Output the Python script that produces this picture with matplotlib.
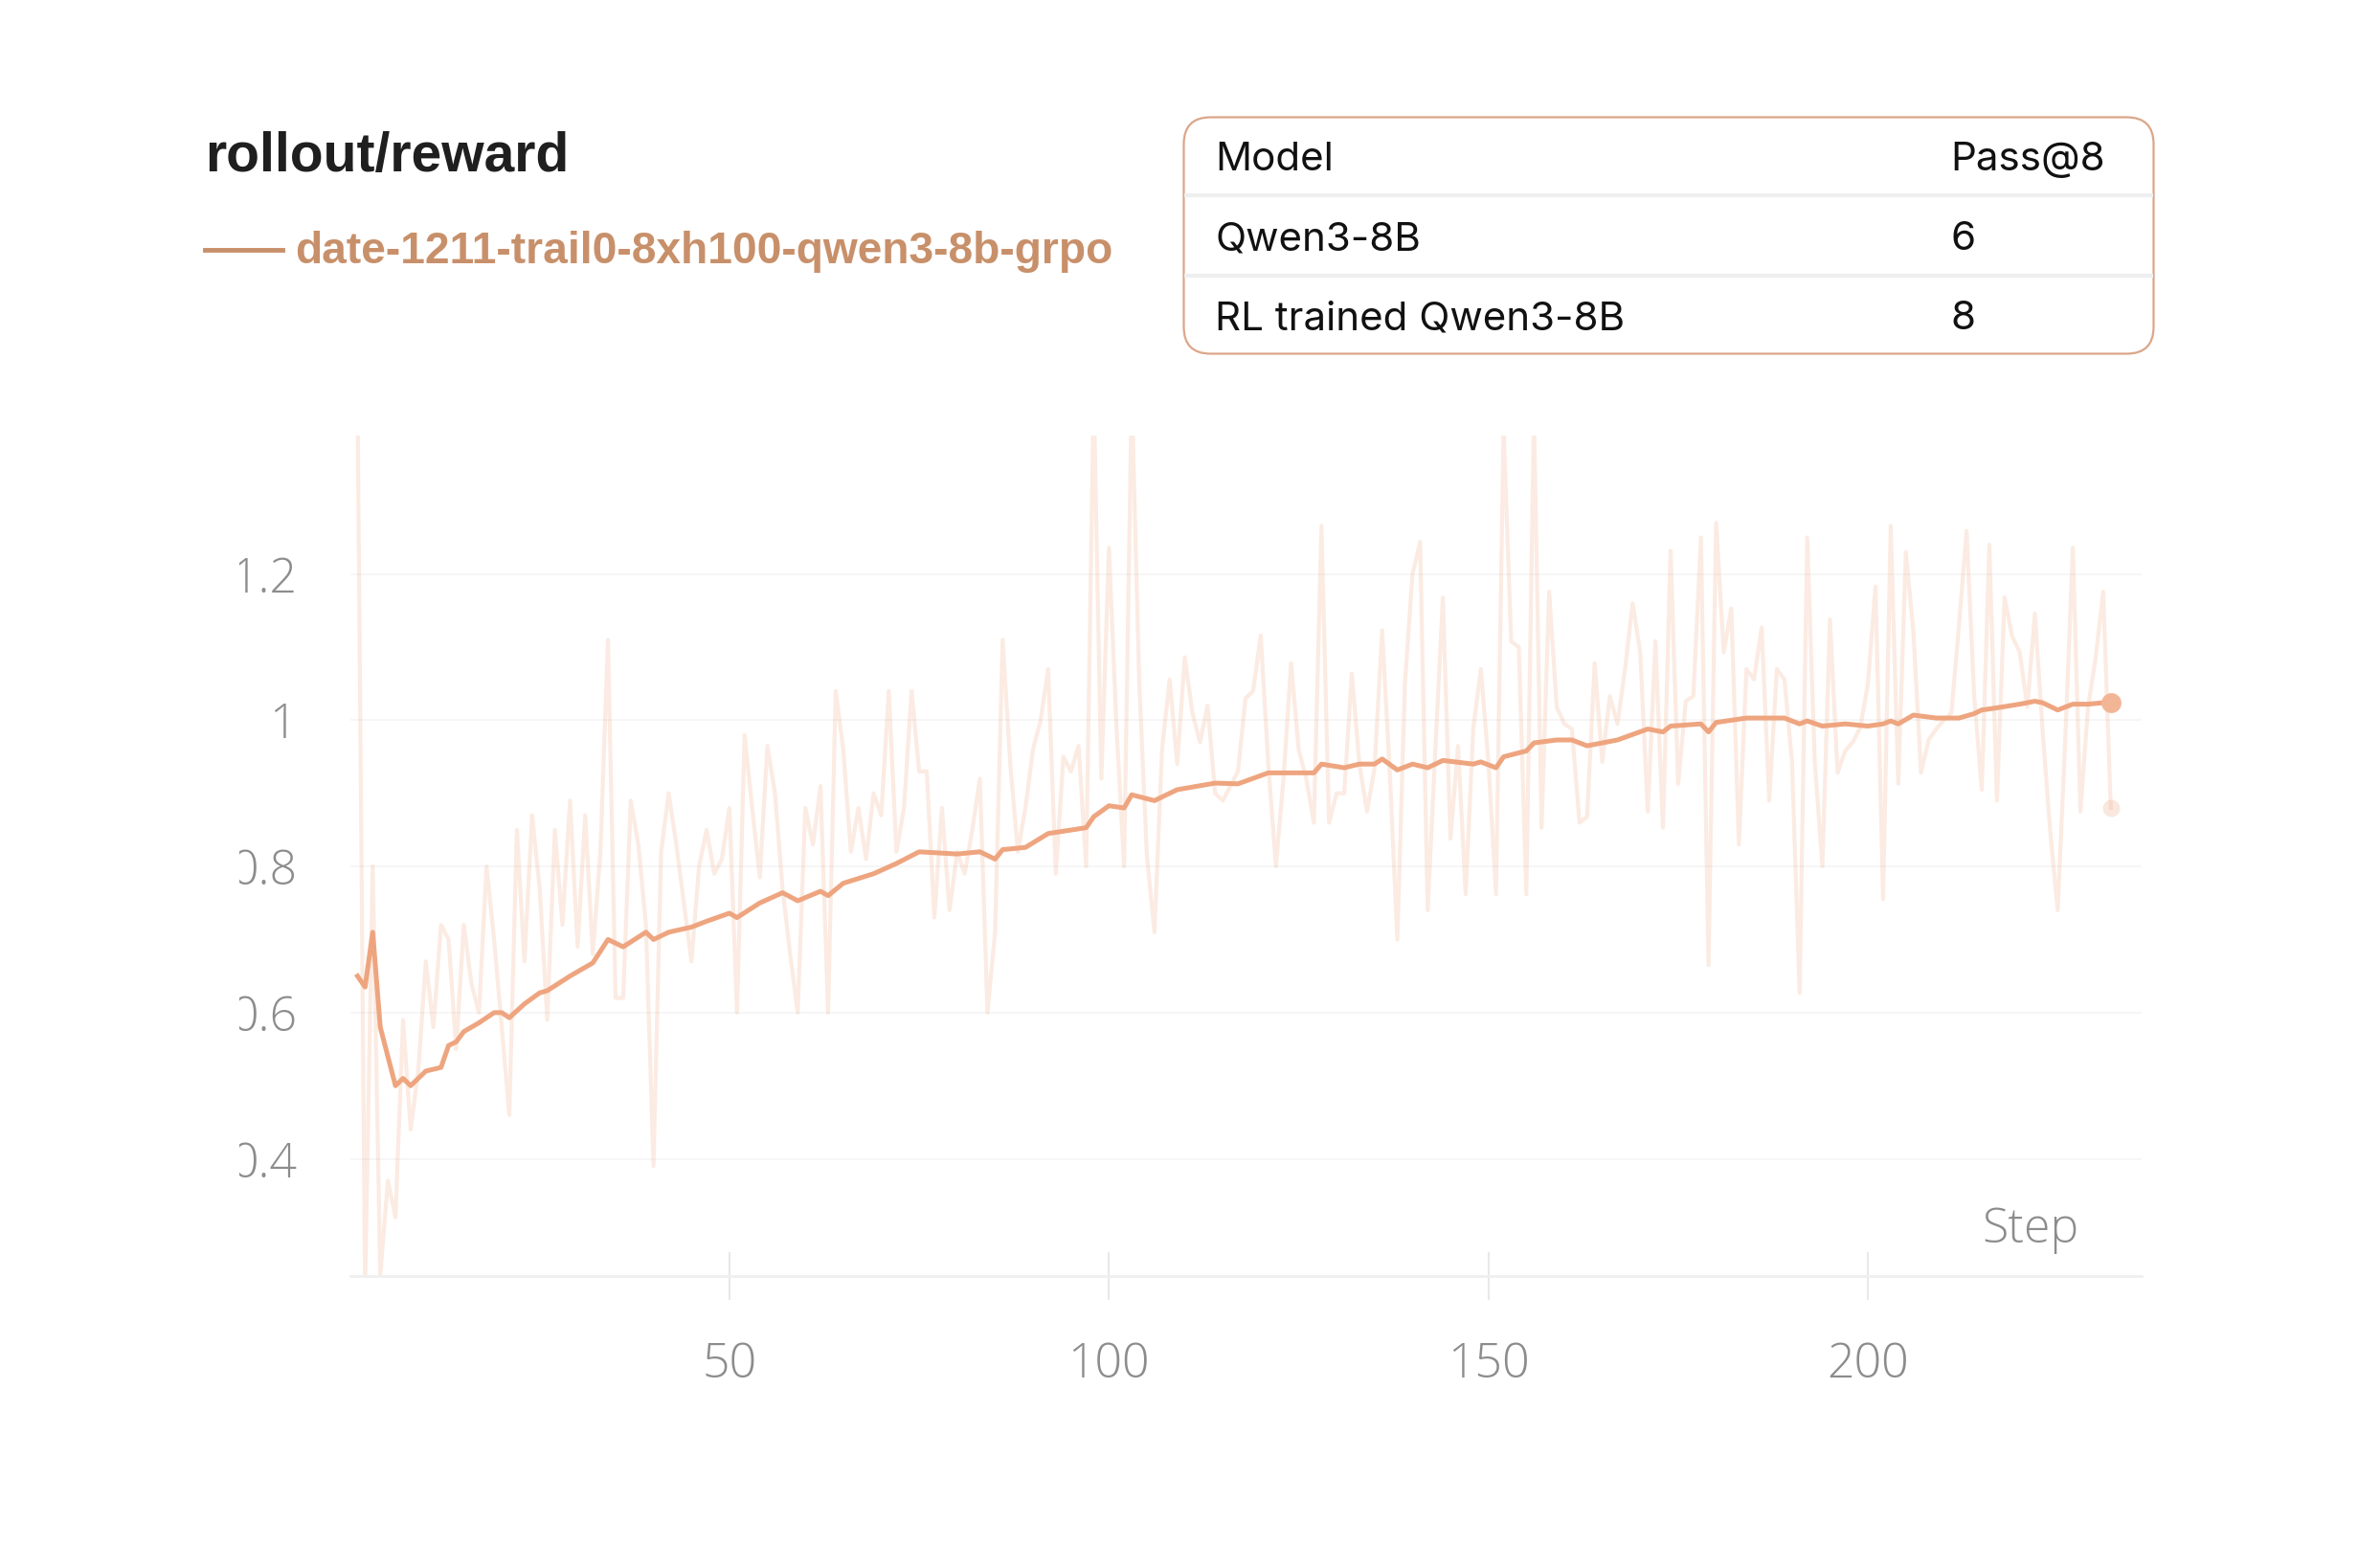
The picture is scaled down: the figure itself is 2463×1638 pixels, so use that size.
import matplotlib
matplotlib.use("Agg")
import matplotlib.pyplot as plt
from matplotlib.patches import FancyBboxPatch, Rectangle
from matplotlib.lines import Line2D

# raw rollout/reward per step (steps 1..232)
raw_reward = [
    1.45, 0.22, 0.80, 0.24, 0.37, 0.32, 0.59, 0.44, 0.52, 0.67,
    0.58, 0.72, 0.70, 0.55, 0.72, 0.64, 0.60, 0.80, 0.70, 0.58,
    0.46, 0.85, 0.67, 0.87, 0.77, 0.59, 0.85, 0.72, 0.89, 0.69,
    0.87, 0.68, 0.82, 1.11, 0.62, 0.62, 0.89, 0.83, 0.72, 0.39,
    0.82, 0.90, 0.83, 0.75, 0.67, 0.80, 0.85,
    0.79, 0.81, 0.88, 0.60, 0.98, 0.88, 0.785, 0.965, 0.90, 0.77,
    0.68, 0.60, 0.88, 0.83, 0.91, 0.60, 1.04, 0.96, 0.82, 0.88,
    0.81, 0.90, 0.87, 1.04, 0.82, 0.88, 1.04, 0.93, 0.93, 0.73,
    0.88, 0.74, 0.82, 0.79, 0.85, 0.92, 0.60, 0.71, 1.11, 0.94,
    0.82, 0.88, 0.96, 1.00, 1.07, 0.79,
    0.95, 0.93, 0.965, 0.80, 1.45, 0.92, 1.236, 0.99, 0.80, 1.45,
    1.05, 0.815, 0.71, 0.96, 1.056, 0.94, 1.086, 1.01, 0.97, 1.02,
    0.90, 0.89, 0.91, 0.93, 1.03, 1.04, 1.116, 0.94, 0.80, 0.92,
    1.078, 0.96, 0.92, 0.86, 1.266, 0.86, 0.90, 0.90, 1.064, 0.94,
    0.875, 0.935, 1.123, 0.93, 0.70, 1.05, 1.20,
    1.244, 0.74, 0.958, 1.168, 0.838, 0.965, 0.762, 0.988, 1.07, 0.943,
    0.762, 1.40, 1.108, 1.10, 0.762, 1.42, 0.853, 1.176, 1.018, 0.995,
    0.988, 0.86, 0.868, 1.078, 0.943, 1.033, 0.995, 1.07, 1.16, 1.093,
    0.875, 1.108, 0.853, 1.232, 0.913, 1.026, 1.033, 1.25, 0.665, 1.27,
    1.093, 1.153, 0.83, 1.07, 1.056, 1.127, 0.89,
    1.07, 1.056, 0.943, 0.627, 1.25, 0.943, 0.80, 1.138, 0.928, 0.958,
    0.97, 0.99, 1.05, 1.183, 0.755, 1.266, 0.913, 1.23, 1.12, 0.928,
    0.973, 0.988, 1.00, 1.01, 1.13, 1.259, 1.033, 0.905, 1.24, 0.89,
    1.168, 1.115, 1.093, 1.018, 1.146, 0.988, 0.85, 0.74, 0.973, 1.236,
    0.875, 1.018, 1.085, 1.176, 0.88,
]
raw_steps = list(range(1, len(raw_reward) + 1))

# smoothed curve, read at the steps where it visibly bends
smooth_steps = [
    1, 2, 3, 4, 5, 6, 7, 8, 9, 10, 12, 13, 14, 15, 17, 19, 20, 21, 23, 25,
    26, 29, 32, 34, 36, 39, 40, 42, 45, 47, 50, 51, 54, 57, 59, 62, 63, 65,
    69, 72, 75, 80, 83, 85, 86, 89, 92, 97, 98, 100, 102, 103, 106, 109,
    114, 117, 121, 124, 127, 128, 131, 133, 135, 136, 138, 140, 142, 144,
    148, 149, 151, 152, 155, 156, 159, 161, 163, 167, 171, 173, 174, 178,
    179, 180, 184, 189, 191, 192, 194, 197, 200, 202, 203, 204, 206, 209,
    212, 214, 215, 217, 220, 222, 223, 225, 227, 229, 231, 232,
]
smooth_reward = [
    0.65, 0.635, 0.71, 0.58, 0.54, 0.50, 0.51, 0.50, 0.51, 0.52, 0.525,
    0.555, 0.56, 0.574, 0.586, 0.60, 0.60, 0.593, 0.612, 0.627, 0.63, 0.65,
    0.668, 0.70, 0.69, 0.71, 0.70, 0.71, 0.717, 0.725, 0.736, 0.73, 0.75,
    0.764, 0.753, 0.766, 0.76, 0.777, 0.79, 0.804, 0.82, 0.817, 0.82, 0.81,
    0.823, 0.826, 0.845, 0.853, 0.868, 0.883, 0.88, 0.898, 0.89, 0.905,
    0.914, 0.913, 0.928, 0.928, 0.928, 0.94, 0.935, 0.94, 0.94, 0.947,
    0.932, 0.94, 0.935, 0.945, 0.94, 0.943, 0.935, 0.95, 0.958, 0.969,
    0.973, 0.973, 0.965, 0.973, 0.988, 0.984, 0.992, 0.995, 0.984, 0.997,
    1.003, 1.003, 0.995, 0.999, 0.992, 0.995, 0.992, 0.995, 0.999, 0.995,
    1.007, 1.003, 1.003, 1.009, 1.014, 1.017, 1.022, 1.026, 1.024, 1.014,
    1.022, 1.022, 1.024, 1.024,
]

x_ticks = [50, 100, 150, 200]
y_ticks = [0.4, 0.6, 0.8, 1.0, 1.2]
y_tick_labels = ["0.4", "0.6", "0.8", "1", "1.2"]

table_header = ["Model", "Pass@8"]
table_models = ["Qwen3-8B", "RL trained Qwen3-8B"]
table_pass8 = [6, 8]

run_name = "date-1211-trail0-8xh100-qwen3-8b-grpo"

W, H = 2463, 1638
fig = plt.figure(figsize=(W / 100, H / 100), dpi=100)
fig.patch.set_facecolor("white")

line_col = "#eea57f"
legend_col = "#c8906a"

# main chart
ax = fig.add_axes([365.5 / W, 1 - 1332.7 / H, 1871 / W, (1332.7 - 454.6) / H])
ax.plot(raw_steps, raw_reward, color=line_col, alpha=0.22, lw=3.0)
ax.plot(smooth_steps, smooth_reward, color=line_col, lw=3.6)
ax.plot(raw_steps[-1], raw_reward[-1], "o", color=line_col, alpha=0.25,
        ms=13, mec="none")
ax.plot(smooth_steps[-1], smooth_reward[-1], "o", color="#f2b697", ms=15,
        mec="none")

ax.set_xlim(0, 236)
ax.set_ylim(0.24, 1.39)
ax.set_xticks(x_ticks)
ax.set_xticklabels([str(t) for t in x_ticks])
ax.set_yticks(y_ticks)
ax.set_yticklabels(y_tick_labels)
ax.grid(axis="y", color="#f5f5f5", lw=1.2)
ax.set_axisbelow(True)
for s in ["left", "top", "right"]:
    ax.spines[s].set_visible(False)
ax.spines["bottom"].set_color("#efefef")
ax.spines["bottom"].set_linewidth(2)
ax.tick_params(axis="x", direction="inout", length=36, width=1.5,
               color="#e8e8e8", pad=31, labelsize=36, labelcolor="#8c8c8c")
ax.tick_params(axis="y", length=0, pad=40, labelsize=36, labelcolor="#8c8c8c")
for lab in ax.get_xticklabels() + ax.get_yticklabels():
    lab.set_fontfamily("Open Sans")
    lab.set_fontweight("light")
# the reference crops the left edge of the y labels
clip = Rectangle((250 / W, 0), 1, 1, transform=fig.transFigure)
for lab in ax.get_yticklabels():
    lab.set_clip_path(clip)
    lab.set_clip_on(True)

ax.text(2121 / W, 1 - 1285 / H, "Step", transform=fig.transFigure,
        ha="center", va="center", fontsize=36, color="#8c8c8c",
        family="Open Sans", fontweight="light")

# title and legend
fig.text(214 / W, 1 - 164 / H, "rollout/reward", ha="left", va="center",
         fontsize=41, fontweight="bold", color="#1f1f1f",
         family="Liberation Sans")
fig.add_artist(Line2D([214 / W, 295 / W], [1 - 261 / H, 1 - 261 / H],
                      transform=fig.transFigure, color=legend_col, lw=3.5))
fig.text(308 / W, 1 - 263 / H, run_name, ha="left", va="center",
         fontsize=33.2, fontweight="bold", color=legend_col,
         family="Liberation Sans")

# results table
tx0, ty0, tx1, ty1 = 1235, 121, 2251, 371
tab = fig.add_axes([tx0 / W, 1 - ty1 / H, (tx1 - tx0) / W, (ty1 - ty0) / H])
tab.set_xlim(0, tx1 - tx0)
tab.set_ylim(ty1 - ty0, 0)
tab.axis("off")
tab.add_patch(FancyBboxPatch((1.5, 1.5), tx1 - tx0 - 3, ty1 - ty0 - 3,
                             boxstyle="round,pad=0,rounding_size=28",
                             fc="white", ec="#dba68a", lw=1.6,
                             clip_on=False))
row_h = (ty1 - ty0) / 3
for i in (1, 2):
    tab.plot([2, tx1 - tx0 - 2], [row_h * i, row_h * i], color="#efefef",
             lw=3, solid_capstyle="butt")
rows = [table_header] + [[m, str(p)] for m, p in zip(table_models, table_pass8)]
for i, (name, val) in enumerate(rows):
    yc = row_h * (i + 0.5) + 4
    tab.text(34, yc, name, ha="left", va="center", fontsize=30.3,
             family="Inter", color="#111111")
    tab.text(802, yc, val, ha="left", va="center", fontsize=30.3,
             family="Inter", color="#111111")

fig.savefig("out.png", dpi=100, facecolor="white")
